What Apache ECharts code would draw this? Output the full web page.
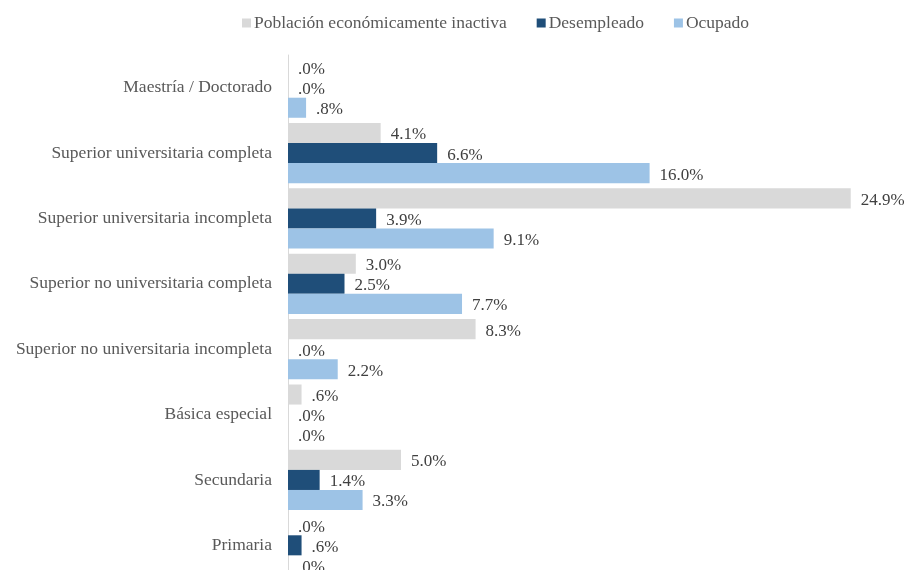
<!DOCTYPE html>
<html><head><meta charset="utf-8">
<script src="https://cdn.jsdelivr.net/npm/echarts@6/dist/echarts.min.js"></script>
<style>html,body{margin:0;padding:0;background:#fff}#c{width:907px;height:570px}</style>
</head><body><div id="c"></div>
<script>
const categories = ["Maestría / Doctorado","Superior universitaria completa","Superior universitaria incompleta","Superior no universitaria completa","Superior no universitaria incompleta","Básica especial","Secundaria","Primaria"];
const seriesNames = ["Población económicamente inactiva","Desempleado","Ocupado"];
const inactiva = [0.0, 4.1, 24.9, 3.0, 8.3, 0.6, 5.0, 0.0];
const desempleado = [0.0, 6.6, 3.9, 2.5, 0.0, 0.0, 1.4, 0.6];
const ocupado = [0.8, 16.0, 9.1, 7.7, 2.2, 0.0, 3.3, 0.0];
const colors = ["#d9d9d9","#1f4e79","#9dc3e6"];
const font = "'Liberation Serif','Times New Roman',serif";
function fmt(v){ return v.toFixed(1).replace(/^0\./, '.') + '%'; }
const chart = echarts.init(document.getElementById('c'), null, {renderer:'canvas'});
const mk = (name, data, color) => ({
  name, type:'bar', data, barGap:'0%', barCategoryGap:'8%',
  itemStyle:{color},
  label:{show:true, position:'right', distance:10, offset:[0,2], formatter:p=>fmt(p.value),
    fontFamily:font, fontSize:17, color:'#404040'},
  emphasis:{disabled:true}, animation:false
});
chart.setOption({
  animation:false,
  legend:{top:9, left:237, itemWidth:9, itemHeight:9, itemGap:30, icon:'rect',
    textStyle:{fontFamily:font, fontSize:17.5, color:'#595959', padding:[0,0,0,-2]}, data:seriesNames},
  grid:{left:288, width:565, top:55, height:523, containLabel:false, outerBoundsMode:'none'},
  xAxis:{type:'value', min:0, max:25, show:false},
  yAxis:{type:'category', data:categories, inverse:true,
    axisLine:{show:true, lineStyle:{color:'#d9d9d9', width:1}},
    axisTick:{show:false},
    axisLabel:{margin:16, fontFamily:font, fontSize:17.5, color:'#595959'}},
  series:[mk(seriesNames[0], inactiva, colors[0]), mk(seriesNames[1], desempleado, colors[1]), mk(seriesNames[2], ocupado, colors[2])]
});
</script></body></html>
